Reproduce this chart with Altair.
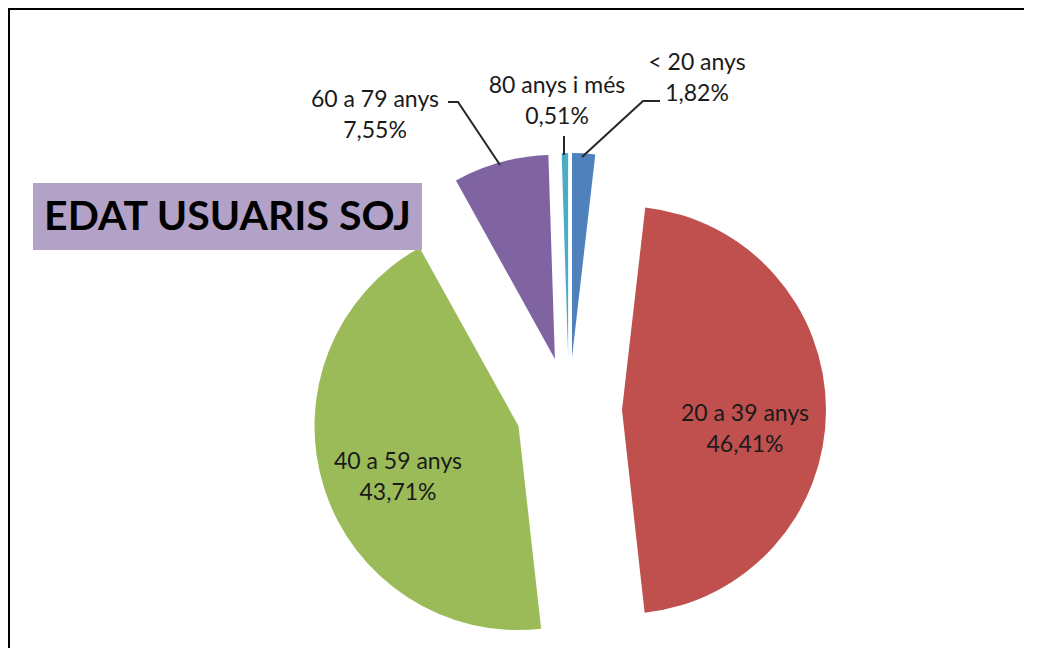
import math
import altair as alt
import pandas as pd

# ---------------- data ----------------
categories = ["< 20 anys", "20 a 39 anys", "40 a 59 anys", "60 a 79 anys", "80 anys i més"]
percent = [1.82, 46.41, 43.71, 7.55, 0.51]
pct_labels = ["1,82%", "46,41%", "43,71%", "7,55%", "0,51%"]
colors = ["#4F81BD", "#C0504D", "#9BBB59", "#8064A2", "#4BACC6"]
title_text = "EDAT USUARIS SOJ"

# ---------------- layout ----------------
W, H = 1016, 640
CX, CY = 561, 402          # pie centre (chart px)
RADIUS = 204
EXPLODE = 53
FONT = "Lato"
TXT = "#1a1a1a"

# label anchor (centre x, baseline of first line) per category
LABEL_POS = {
    "< 20 anys": (689, 62),
    "20 a 39 anys": (737, 413),
    "40 a 59 anys": (390, 461),
    "60 a 79 anys": (367, 99),
    "80 anys i més": (549, 85),
}
# leader lines (polylines, chart px)
LEADERS = {
    "< 20 anys": [(652, 93), (635, 93), (574, 149)],
    "60 a 79 anys": [(440, 94), (450, 94), (492, 157)],
    "80 anys i més": [(556, 128), (556, 147)],
}
TITLE_BOX = (25, 175, 414, 242)

xs = alt.Scale(domain=[0, W], range=[0, W])
ys = alt.Scale(domain=[0, H], range=[0, H])

df = pd.DataFrame({"cat": categories, "pct": percent, "order": list(range(len(categories)))})

arcs = (
    alt.Chart(df)
    .transform_window(cum="sum(pct)", sort=[alt.SortField("order")])
    .transform_calculate(
        start="datum.cum - datum.pct",
        mid="(datum.cum - datum.pct / 2) / 100 * 2 * PI",
    )
    .transform_calculate(
        px=f"{CX} + sin(datum.mid) * {EXPLODE}",
        py=f"{CY} - cos(datum.mid) * {EXPLODE}",
    )
    .mark_arc(radius=RADIUS)
    .encode(
        x=alt.X("px:Q", scale=xs, axis=None),
        y=alt.Y("py:Q", scale=ys, axis=None),
        theta=alt.Theta("start:Q", scale=alt.Scale(domain=[0, 100], range=[0, 2 * math.pi])),
        theta2="cum:Q",
        color=alt.Color("cat:N", scale=alt.Scale(domain=categories, range=colors), legend=None),
    )
)

lab_df = pd.DataFrame({
    "txt": [f"{c}\n{p}" for c, p in zip(categories, pct_labels)],
    "lx": [LABEL_POS[c][0] for c in categories],
    "ly": [LABEL_POS[c][1] for c in categories],
})
labels = alt.Chart(lab_df).mark_text(
    font=FONT, fontSize=23, color=TXT, align="center", baseline="alphabetic",
    lineBreak="\n", lineHeight=31,
).encode(
    x=alt.X("lx:Q", scale=xs, axis=None),
    y=alt.Y("ly:Q", scale=ys, axis=None),
    text="txt:N",
)

rows = []
for k, pts in LEADERS.items():
    for i, (x, y) in enumerate(pts):
        rows.append({"id": k, "o": i, "x": x, "y": y})
lead_df = pd.DataFrame(rows)
leaders = alt.Chart(lead_df).mark_line(color="#262626", strokeWidth=2).encode(
    x=alt.X("x:Q", scale=xs, axis=None),
    y=alt.Y("y:Q", scale=ys, axis=None),
    detail="id:N",
    order="o:Q",
)

box_df = pd.DataFrame({"x": [TITLE_BOX[0]], "y": [TITLE_BOX[1]], "x2": [TITLE_BOX[2]], "y2": [TITLE_BOX[3]],
                       "t": [title_text], "tx": [(TITLE_BOX[0] + TITLE_BOX[2]) / 2], "ty": [TITLE_BOX[3] - 20]})
box = alt.Chart(box_df).mark_rect(color="#B3A2C7").encode(
    x=alt.X("x:Q", scale=xs, axis=None), x2="x2:Q",
    y=alt.Y("y:Q", scale=ys, axis=None), y2="y2:Q",
)
title = alt.Chart(box_df).mark_text(
    font=FONT, fontSize=41, fontWeight="bold", color="#000000", align="center", baseline="alphabetic"
).encode(
    x=alt.X("tx:Q", scale=xs, axis=None),
    y=alt.Y("ty:Q", scale=ys, axis=None),
    text="t:N",
)

frame_top = alt.Chart(box_df).mark_rule(color="#000000", strokeWidth=2).encode(
    x=alt.value(0), x2=alt.value(W), y=alt.value(1)
)
frame_left = alt.Chart(box_df).mark_rule(color="#000000", strokeWidth=2).encode(
    x=alt.value(1), y=alt.value(0), y2=alt.value(H)
)

chart = (
    alt.layer(frame_top, frame_left, arcs, leaders, labels, box, title)
    .properties(width=W, height=H, padding=0, autosize=alt.AutoSizeParams(type="none"))
    .configure_view(stroke="transparent", strokeWidth=0)
)

chart.save("out.html", embed_options={"renderer": "svg", "actions": False})
